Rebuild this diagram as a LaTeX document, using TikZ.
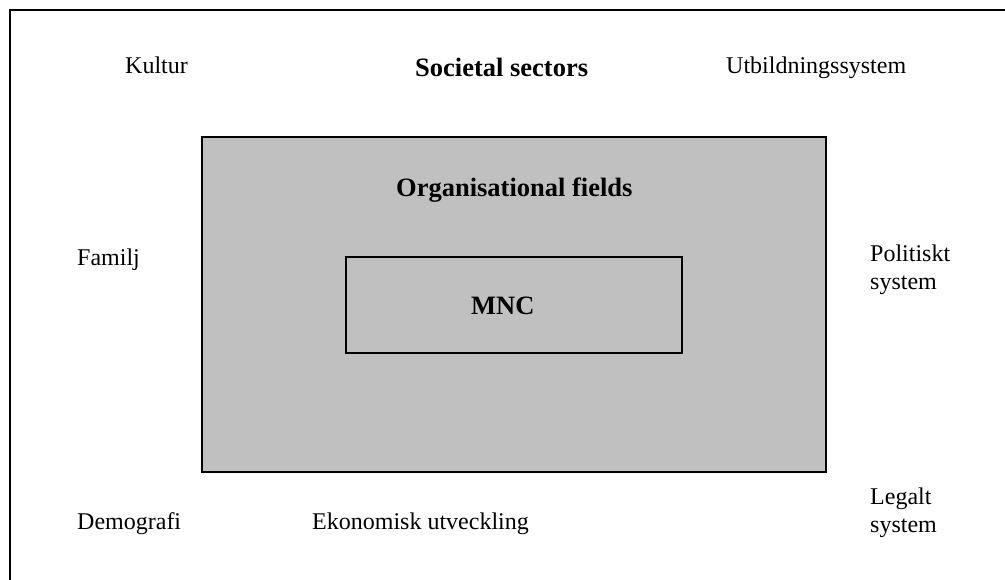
\documentclass[tikz,border=0pt]{standalone}
\usepackage{fontspec}
\setmainfont{Liberation Serif}
\tikzset{
  lbl/.style={anchor=base west, inner sep=0pt, font=\fontsize{24}{28}\selectfont, align=left},
  blbl/.style={lbl, font=\fontsize{26.5}{30}\selectfont\bfseries},
  box/.style={draw=black, line width=2pt, fill=boxgray},
  frame/.style={draw=black, line width=2pt}
}
\definecolor{boxgray}{HTML}{C0C0C0}
\begin{document}
\begin{tikzpicture}[x=1pt,y=-1pt]
\useasboundingbox (0,0) rectangle (1005,580);
\draw[frame] (10,582) -- (10,10) -- (1007,10);
\draw[box] (202,137) rectangle (826,472);
\draw[box] (346,257) rectangle (682,353);
\node[lbl] (kultur) at (125,74) {Kultur};
\node[blbl] (soc) at (415,77) {Societal sectors};
\node[lbl] (utb) at (726,74) {Utbildningssystem};
\node[blbl] (org) at (396,197) {Organisational fields};
\node[lbl] (familj) at (77,266) {Familj};
\node[lbl] (pol) at (870,290) {Politiskt\\system};
\node[blbl] (mnc) at (471,315) {MNC};
\node[lbl] (demo) at (77,529) {Demografi};
\node[lbl] (eko) at (312,529) {Ekonomisk utveckling};
\node[lbl] (leg) at (870,532) {Legalt\\system};
\end{tikzpicture}
\end{document}
